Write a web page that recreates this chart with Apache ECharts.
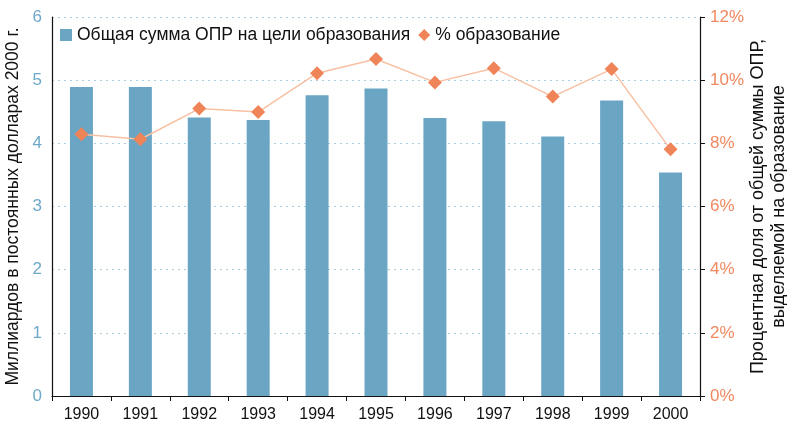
<!DOCTYPE html>
<html><head><meta charset="utf-8">
<script src="https://cdn.jsdelivr.net/npm/echarts@6/dist/echarts.min.js"></script>
<style>html,body{margin:0;padding:0;background:#fff}#c{width:787px;height:430px}</style>
</head><body><div id="c"></div>
<script>
const years = ['1990','1991','1992','1993','1994','1995','1996','1997','1998','1999','2000'];
const oprEducation = [4.89, 4.89, 4.41, 4.37, 4.76, 4.87, 4.40, 4.35, 4.11, 4.68, 3.54];
const pctEducation = [8.29, 8.13, 9.10, 8.99, 10.22, 10.67, 9.93, 10.38, 9.48, 10.35, 7.81];
const leftTicks = [0,1,2,3,4,5,6];
const barName = 'Общая сумма ОПР на цели образования';
const lineName = '% образование';
const font = 'Liberation Sans, Arial, sans-serif';

const chart = echarts.init(document.getElementById('c'));
chart.setOption({
  animation: false,
  textStyle: {fontFamily: font},
  grid: {left: 52, right: 87, top: 17, bottom: 34, outerBoundsMode: 'none', containLabel: false},
  legend: {
    left: 55, top: 21, itemGap: 8, itemWidth: 12, itemHeight: 12,
    textStyle: {fontSize: 17.5, color: '#111', fontFamily: font},
    data: [{name: barName, icon: 'rect'}, {name: lineName, icon: 'diamond'}]
  },
  xAxis: {
    type: 'category', data: years,
    axisLine: {lineStyle: {color: '#111', width: 1.2}},
    axisTick: {show: true, length: 5, lineStyle: {color: '#111'}},
    axisLabel: {color: '#111', fontSize: 16, margin: 11, fontFamily: font}
  },
  yAxis: [{
    type: 'value', min: 0, max: 6, interval: 1,
    name: 'Миллиардов в постоянных долларах 2000 г.',
    nameLocation: 'middle', nameGap: 30, nameRotate: 90, nameMoveOverlap: false,
    nameTextStyle: {fontSize: 17.5, color: '#111', fontFamily: font},
    axisLine: {show: true, lineStyle: {color: '#111', width: 1.2}},
    axisTick: {show: false},
    axisLabel: {color: '#6fa8c8', fontSize: 17, margin: 10, fontFamily: font},
    splitLine: {show: true, lineStyle: {color: '#a9cde2', type: [2, 4], width: 1.2}}
  }, {
    type: 'value', min: 0, max: 12, interval: 2, position: 'right',
    name: 'Процентная доля от общей суммы ОПР,\nвыделяемой на образование',
    nameLocation: 'middle', nameGap: 48, nameRotate: 90, nameMoveOverlap: false,
    nameTextStyle: {fontSize: 18, color: '#111', lineHeight: 21, fontFamily: font},
    axisLine: {show: true, lineStyle: {color: '#111', width: 1.2}},
    axisTick: {show: true, length: 5, inside: false, lineStyle: {color: '#111'}},
    axisLabel: {color: '#f0885f', fontSize: 17, margin: 10, formatter: '{value}%', fontFamily: font},
    splitLine: {show: false}
  }],
  series: [{
    name: barName, type: 'bar', data: oprEducation, barWidth: 23,
    itemStyle: {color: '#6aa5c4'}
  }, {
    name: lineName, type: 'line', yAxisIndex: 1, data: pctEducation,
    symbol: 'diamond', symbolSize: 14,
    lineStyle: {color: '#f8c0a2', width: 1.5},
    itemStyle: {color: '#ef8459'}
  }]
});
</script></body></html>
